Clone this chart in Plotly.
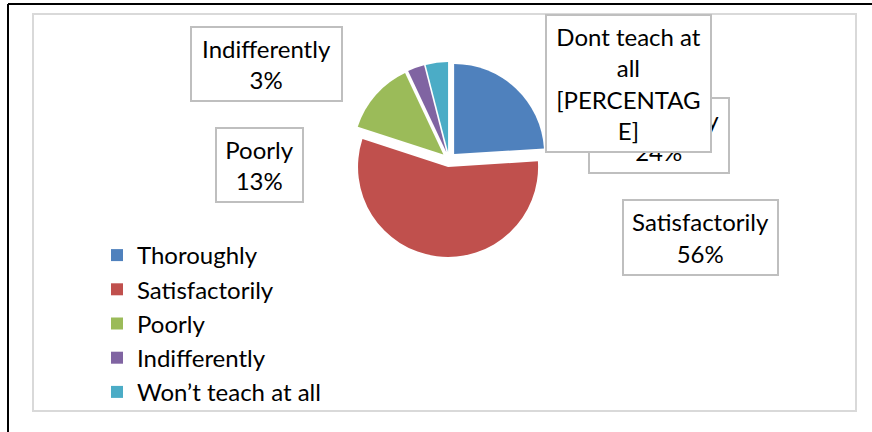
import plotly.graph_objects as go

# ---- data ----
categories = ["Thoroughly", "Satisfactorily", "Poorly", "Indifferently", "Won\u2019t teach at all"]
percent_values = [24, 56, 13, 3, 4]
slice_colors = ["#4F81BD", "#C0504D", "#9BBB59", "#8064A2", "#4BACC6"]
label_names = ["Thoroughly", "Satisfactorily", "Poorly", "Indifferently", "Dont teach at all"]
label_percent = ["24%", "56%", "13%", "3%", "[PERCENTAGE]"]

W, H = 872, 432
FONT = "Lato, 'Noto Sans', sans-serif"
FS = 24


def px(x):
    return x / W


def py(y):
    return 1 - y / H


fig = go.Figure()
fig.add_trace(go.Pie(
    labels=categories,
    values=percent_values,
    marker=dict(colors=slice_colors, line=dict(width=0)),
    sort=False,
    direction="clockwise",
    rotation=0,
    pull=[0.083] * len(categories),
    textinfo="none",
    hoverinfo="label+percent",
    domain=dict(x=[px(449 - 97.5), px(449 + 97.5)], y=[py(159.5 + 97.5), py(159.5 - 97.5)]),
))

# label boxes (center x, center y, width, height) in pixels
boxes = [
    (659, 135.5, 140, 75),    # Thoroughly
    (700.5, 237.5, 155, 75),  # Satisfactorily
    (259.5, 165, 87, 74),     # Poorly
    (266.5, 64, 151, 74),     # Indifferently
    (628.5, 83.5, 165, 137),  # Dont teach at all
]

texts = []
for name, pct in zip(label_names, label_percent):
    texts.append(f"{name}<br>{pct}")
# Excel wrapped the last label inside its box
texts[4] = "Dont teach at<br>all<br>[PERCENTAG<br>E]"

annotations = []
for t, (cx, cy, bw, bh) in zip(texts, boxes):
    annotations.append(dict(
        text=t, x=px(cx), y=py(cy), xref="paper", yref="paper",
        xanchor="center", yanchor="middle", showarrow=False,
        width=bw - 2, height=bh - 2, align="center", valign="middle",
        bgcolor="white", bordercolor="#BFBFBF", borderwidth=2, borderpad=0,
        font=dict(family=FONT, size=FS, color="#000000"),
    ))

shapes = [
    # inner chart area border
    dict(type="rect", xref="paper", yref="paper", x0=px(33), x1=px(856), y0=py(411), y1=py(14),
         line=dict(color="#D9D9D9", width=2), layer="below"),
    # outer black frame (top and left)
    dict(type="line", xref="paper", yref="paper", x0=px(8), x1=1, y0=py(4), y1=py(4),
         line=dict(color="#000000", width=2)),
    dict(type="line", xref="paper", yref="paper", x0=px(8), x1=px(8), y0=py(4), y1=0,
         line=dict(color="#000000", width=2)),
]

fig.update_layout(
    width=W, height=H,
    margin=dict(l=0, r=0, t=0, b=0),
    paper_bgcolor="white", plot_bgcolor="white",
    showlegend=True,
    legend=dict(x=px(97), y=py(233), xanchor="left", yanchor="top",
                font=dict(family=FONT, size=FS, color="#000000"),
                bgcolor="rgba(0,0,0,0)", traceorder="normal"),
    annotations=annotations,
    shapes=shapes,
)

fig.write_html("out.html", config={"displayModeBar": False},
               post_script="document.body.style.margin='0';document.body.style.overflow='hidden';")
